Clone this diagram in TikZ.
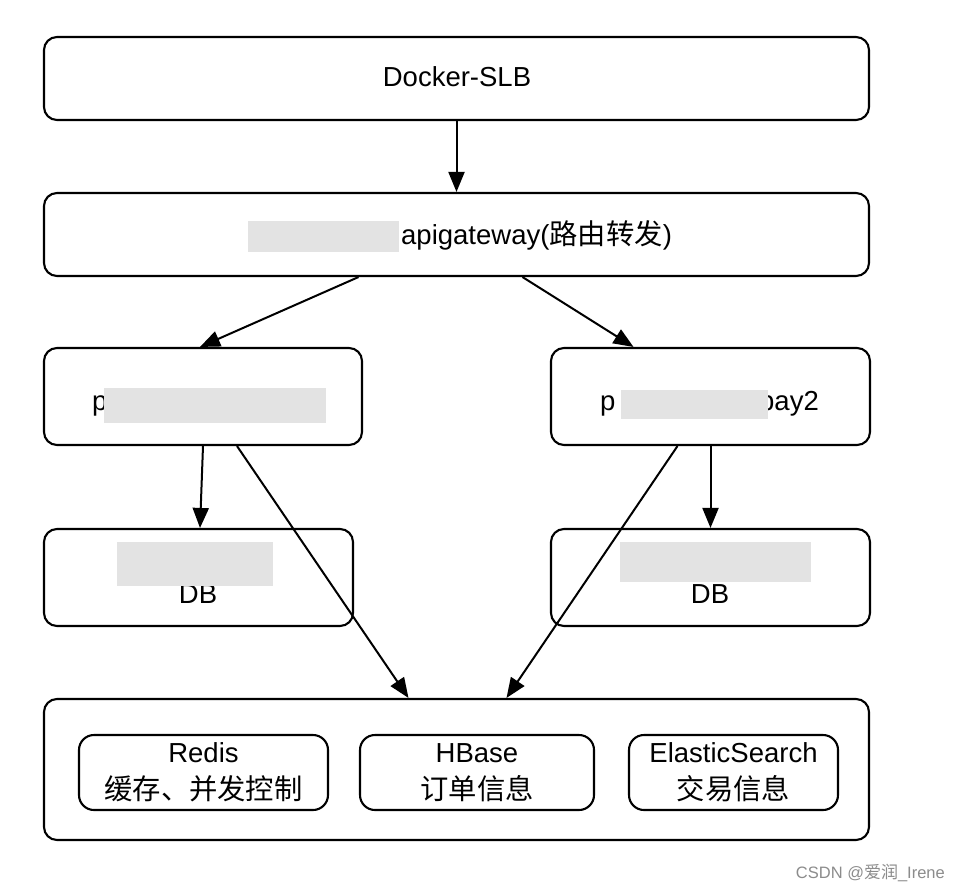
\documentclass[tikz,border=0pt]{standalone}
\usepackage{fontspec}
\setmainfont{Liberation Sans}
\newfontfamily\cjk{Noto Sans CJK SC}[Scale=1.03]
\usetikzlibrary{arrows.meta,calc}
\begin{document}
\begin{tikzpicture}[x=1pt,y=-1pt,
 box/.style={draw,line width=2.1pt,rounded corners=13pt,inner sep=0pt},
 inbox/.style={draw,line width=2.1pt,rounded corners=15pt,inner sep=0pt},
 conn/.style={line width=2pt,-{Triangle[length=20pt,width=16pt]}},
 lbl/.style={font=\fontsize{27.5}{32}\selectfont,inner sep=0pt},
 blur/.style={fill=black!11,draw=none}]
\useasboundingbox[fill=white] (0,0) rectangle (960,890);
% boxes
\node[box,minimum width=825pt,minimum height=83pt] (slb) at (456.5,78.5) {};
\node[box,minimum width=825pt,minimum height=83pt] (gw) at (456.5,234.5) {};
\node[box,minimum width=318pt,minimum height=97pt] (s1) at (203,396.5) {};
\node[box,minimum width=319pt,minimum height=97pt] (s2) at (710.5,396.5) {};
\node[box,minimum width=309pt,minimum height=97pt] (db1) at (198.5,577.5) {};
\node[box,minimum width=319pt,minimum height=97pt] (db2) at (710.5,577.5) {};
\node[box,minimum width=825pt,minimum height=141pt] (store) at (456.5,769.5) {};
\node[inbox,minimum width=249pt,minimum height=75pt] (redis) at (203.5,772.5) {};
\node[inbox,minimum width=234pt,minimum height=75pt] (hbase) at (477,772.5) {};
\node[inbox,minimum width=209pt,minimum height=75pt] (es) at (733.5,772.5) {};
% texts
\node[lbl,anchor=base] (slbt) at (457,87) {Docker-SLB};
\node[lbl,anchor=base west] (gwt) at (401,245) {apigateway({\cjk 路由转发})};
\fill[blur] (248,221) rectangle (399,252);
\node[lbl,anchor=base west] (s1t) at (92,410) {p};
\fill[blur] (104,388) rectangle (326,423);
\node[lbl,anchor=base west] (s2t) at (600,410) {p};
\node[lbl,anchor=base east] (s2u) at (819,410) {pay2};
\fill[blur] (621,390) rectangle (768,419);
\node[lbl,anchor=base] (db1t) at (198,603) {DB};
\fill[blur] (117,542) rectangle (273,586);
\node[lbl,anchor=base] (db2t) at (710,603) {DB};
\fill[blur] (620,542) rectangle (811,582);
\node[lbl,anchor=base] (redist) at (203.5,762) {Redis};
\node[lbl,anchor=base] (redisc) at (203.5,799) {\cjk 缓存、并发控制};
\node[lbl,anchor=base] (hbaset) at (477,762) {HBase};
\node[lbl,anchor=base] (hbasec) at (477,799) {\cjk 订单信息};
\node[lbl,anchor=base] (est) at (733.5,762) {ElasticSearch};
\node[lbl,anchor=base] (esc) at (733.5,799) {\cjk 交易信息};
\node[anchor=base east,inner sep=0pt,text=black!45,font=\fontsize{16.5}{19}\selectfont] (wm) at (945,878) {CSDN @{\cjk 爱润}\_Irene};
% connectors
\draw[conn] (slb.south) -- (gw.north);
\draw[conn] ([xshift=-98pt]gw.south) -- ([xshift=-3pt]s1.north);
\draw[conn] ([xshift=66pt]gw.south) -- ([xshift=-77pt]s2.north);
\draw[conn] (s1.south) -- ([xshift=1.5pt]db1.north);
\draw[conn] (s2.south) -- (db2.north);
\draw[conn] ([xshift=34pt]s1.south) -- ([xshift=-48pt]store.north);
\draw[conn] ([xshift=-33pt]s2.south) -- ([xshift=50pt]store.north);
\end{tikzpicture}
\end{document}
